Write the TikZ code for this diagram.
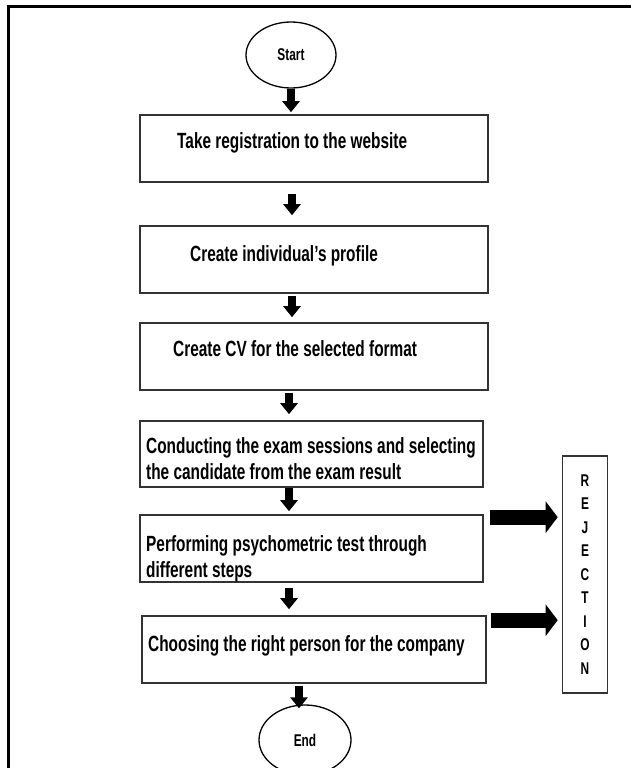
\documentclass[tikz,border=0pt]{standalone}
\usepackage{fontspec}
\setmainfont{Liberation Sans}[FakeStretch=0.7]
\usetikzlibrary{arrows.meta,shapes.geometric,calc}
\begin{document}
\begin{tikzpicture}[x=1pt,y=-1pt,
  box/.style={draw=black!80, line width=1.6pt, inner sep=0pt, anchor=center},
  oval/.style={ellipse, draw, line width=1.3pt, inner sep=0pt, font=\fontsize{17}{19}\selectfont\bfseries},
  lbl/.style={inner sep=0pt, font=\fontsize{22}{26.5}\selectfont\bfseries},
  downarr/.style={line width=8pt, -{Triangle[width=17pt,length=11pt]}},
  fatarr/.style={line width=15pt, -{Triangle[width=31pt,length=12pt]}}]
\useasboundingbox (0,0) rectangle (630,768);
\draw[line width=3pt] (8,790) -- (8,7) -- (650,7);
% terminals
\node[oval, minimum width=90pt, minimum height=66pt] (st) at (291,55) {Start};
\node[oval, minimum width=92pt, minimum height=70pt] (en) at (305,740) {End};
% boxes
\node[box, minimum width=348pt, minimum height=67pt] (b1) at (314,148.5) {};
\node[box, minimum width=348pt, minimum height=67pt] (b2) at (314,259.5) {};
\node[box, minimum width=348pt, minimum height=67pt] (b3) at (314,356.5) {};
\node[box, minimum width=343pt, minimum height=66pt] (b4) at (311.5,454) {};
\node[box, minimum width=343pt, minimum height=67pt] (b5) at (311.5,548.5) {};
\node[box, minimum width=344pt, minimum height=67pt] (b6) at (314,649.5) {};
\node[box, minimum width=45pt, minimum height=237pt, align=center,
      font=\fontsize{17}{23.5}\selectfont\bfseries] (rej) at (585,574.5)
      {R\\E\\J\\E\\C\\T\\I\\O\\N};
% texts
\node[lbl, anchor=base west] (t1) at (177,148) {Take registration to the website};
\node[lbl, anchor=base west] (t2) at (190,261) {Create individual’s profile};
\node[lbl, anchor=base west] (t3) at (173,356) {Create CV for the selected format};
\node[lbl, anchor=north west, align=left] (t4) at (146,437)
  {Conducting the exam sessions and selecting\\the candidate from the exam result};
\node[lbl, anchor=north west, align=left] (t5) at (146,535)
  {Performing psychometric test through\\different steps};
\node[lbl, anchor=base west] (t6) at (148,651) {Choosing the right person for the company};
% flow arrows
\draw[downarr] (st.south) -- ($(b1.north)+(-23,-2)$);
\draw[downarr] ($(b1.south)+(-22,11)$) -- ($(b2.north)+(-22,-10)$);
\draw[downarr] ($(b2.south)+(-22,2)$) -- ($(b3.north)+(-22,-5)$);
\draw[downarr] ($(b3.south)+(-25,2)$) -- ($(b4.north)+(-22.5,-6)$);
\draw[downarr] ($(b4.south)+(-22.5,0)$) -- ($(b5.north)+(-22.5,-3)$);
\draw[downarr] ($(b5.south)+(-22.5,5)$) -- ($(b6.north)+(-25,-6)$);
\draw[downarr] ($(b6.south)+(-15,2)$) -- ($(en.north)+(-6,4)$);
% rejection arrows
\draw[fatarr] ($(b5.north east)+(6,3)$) -- ($(rej.west|-b5.north)+(-4,3)$);
\draw[fatarr] ($(b6.north east)+(4,5)$) -- ($(rej.west|-b6.north)+(-4,5)$);
\end{tikzpicture}
\end{document}
